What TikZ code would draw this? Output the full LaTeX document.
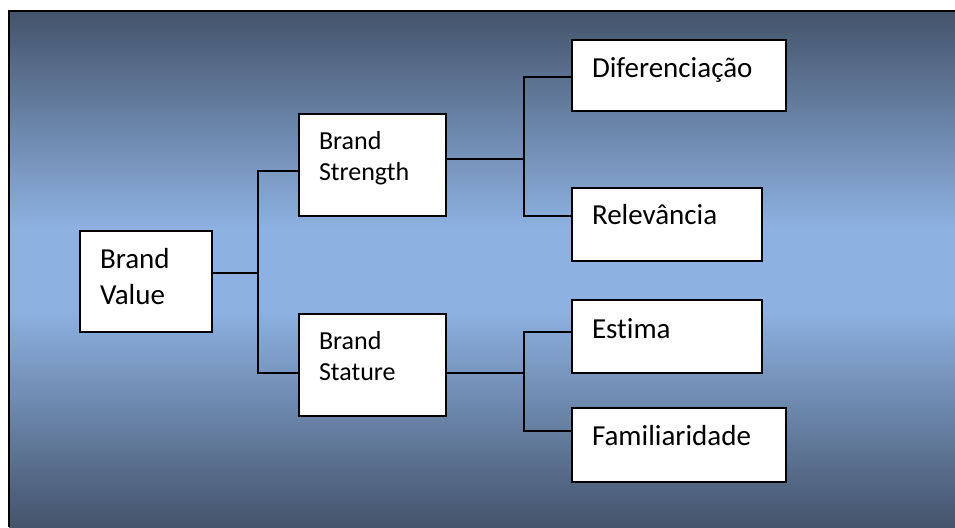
\documentclass[tikz,border=0pt]{standalone}
\usepackage{fontspec}
\setmainfont{Carlito}[Ligatures=NoCommon]
\usetikzlibrary{positioning,calc}

\definecolor{paneldark}{HTML}{44546B}
\definecolor{panellight}{HTML}{8DB1E1}
\pgfdeclareverticalshading{panel}{100bp}{color(0bp)=(paneldark); color(25bp)=(paneldark); color(46bp)=(panellight); color(54bp)=(panellight); color(75bp)=(paneldark); color(100bp)=(paneldark)}

% text inside a box: width, height, first baseline, text
\newcommand{\celltext}[4]{\parbox[b][#2][t]{#1}{\leftskip=20pt\relax\rule{0pt}{#3}#4}}

\tikzset{
  cell/.style={draw, line width=2pt, fill=white, inner sep=0pt, anchor=north west},
  small/.style={font=\fontsize{26}{31.5}\selectfont},
  large/.style={font=\fontsize{29}{36}\selectfont},
  link/.style={line width=2pt}
}

\begin{document}
\begin{tikzpicture}[x=1pt,y=-1pt]
  \useasboundingbox (0,0) rectangle (955,527);
  \fill[white] (0,0) rectangle (955,527);

  % panel (runs on past the right and bottom edges)
  \shade[shading=panel] (9,11) rectangle (955,527);
  \draw[line width=2pt] (955,11) -- (9,11) -- (9,527);

  % boxes
  \node[cell, large] (value) at (79,230) {\celltext{132pt}{101pt}{37pt}{Brand\\Value}};
  \node[cell, small] (strength) at (298,113) {\celltext{147pt}{102pt}{35pt}{Brand\\Strength}};
  \node[cell, small] (stature) at (298,313) {\celltext{147pt}{102pt}{35pt}{Brand\\Stature}};
  \node[cell, large] (dif) at (571,39) {\celltext{214pt}{71pt}{37pt}{Diferenciação}};
  \node[cell, large] (rel) at (571,187) {\celltext{190pt}{73pt}{36pt}{Relevância}};
  \node[cell, large] (estima) at (571,299) {\celltext{190pt}{73pt}{38pt}{Estima}};
  \node[cell, large] (fam) at (571,407) {\celltext{214pt}{74pt}{37pt}{Familiaridade}};

  % forks
  \coordinate (vmid) at (258,273);
  \coordinate (vtop) at (258,171);
  \coordinate (vbot) at (258,373);
  \coordinate (atop) at (524,77);
  \coordinate (amid) at (524,159);
  \coordinate (abot) at (524,216);
  \coordinate (btop) at (524,332);
  \coordinate (bmid) at (524,373);
  \coordinate (bbot) at (524,431);

  \draw[link] (value.east |- vmid) -- (vmid);
  \draw[link] (strength.west |- vtop) -- (vtop) -- (vbot) -- (stature.west |- vbot);
  \draw[link] (strength.east |- amid) -- (amid);
  \draw[link] (dif.west |- atop) -- (atop) -- (abot) -- (rel.west |- abot);
  \draw[link] (stature.east |- bmid) -- (bmid);
  \draw[link] (estima.west |- btop) -- (btop) -- (bbot) -- (fam.west |- bbot);
\end{tikzpicture}
\end{document}
